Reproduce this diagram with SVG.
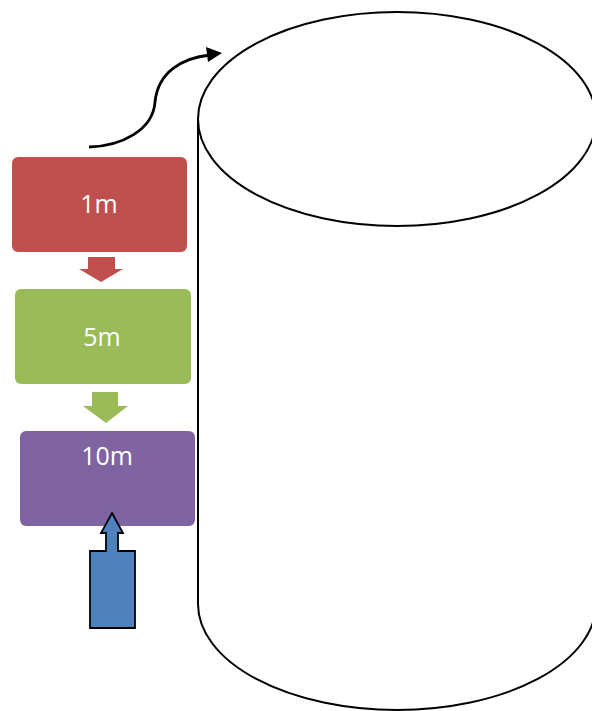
<svg xmlns="http://www.w3.org/2000/svg" width="592" height="711" viewBox="0 0 592 711">
<style>
.lbl{font-family:"Open Sans","Liberation Sans",sans-serif;font-size:25px;fill:#fff;text-anchor:middle}
.ln{fill:none;stroke:#000;stroke-width:2}
</style>
<rect width="592" height="711" fill="#fff"/>
<g id="cylinder">
<path class="ln" d="M198,119 L198,604 A199,106 0 0 0 596,604 L596,119"/>
<ellipse class="ln" cx="397" cy="119" rx="199" ry="107"/>
</g>
<g id="connectors">
<path d="M89,147 C122,146 153,130 155,102 C158,72 182,58 210,55" fill="none" stroke="#000" stroke-width="2.8"/>
<polygon points="222,53 206,47 208,62" fill="#000"/>
<polygon id="arrow-red" points="88,257 115,257 115,269 123,269 101,282 79,269 88,269" fill="#C0504D"/>
<polygon id="arrow-green" points="92,392 118,392 118,406 128,406 106,423 83,406 92,406" fill="#9BBB59"/>
</g>
<g id="node-1m">
<rect x="12" y="157" width="175" height="95" rx="6" fill="#C0504D"/>
<text class="lbl" x="99" y="213">1m</text>
</g>
<g id="node-5m">
<rect x="15" y="289" width="176" height="95" rx="6" fill="#9BBB59"/>
<text class="lbl" x="102" y="346">5m</text>
</g>
<g id="node-10m">
<rect x="20" y="431" width="175" height="95" rx="6" fill="#8064A2"/>
<text class="lbl" x="107" y="465">10m</text>
</g>
<g id="arrow-blue">
<polygon points="112,513 123,533 118,533 118,551 135,551 135,628 90,628 90,551 106,551 106,533 101,533" fill="#4F81BD" stroke="#000" stroke-width="1.8" stroke-linejoin="miter"/>
</g>
</svg>
